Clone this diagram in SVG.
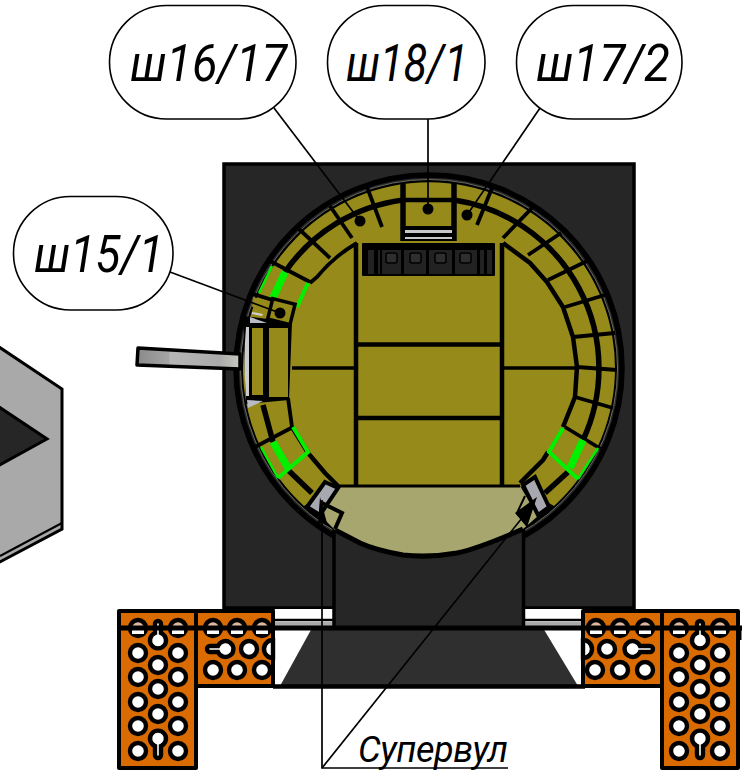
<svg xmlns="http://www.w3.org/2000/svg" width="748" height="772" viewBox="0 0 748 772">
<defs>
<linearGradient id="barrel" x1="0" x2="1" y1="0" y2="0"><stop offset="0" stop-color="#8a8a8a"/><stop offset="0.31" stop-color="#a4a4a4"/><stop offset="0.32" stop-color="#b6b6b6"/><stop offset="0.8" stop-color="#aaaaaa"/><stop offset="1" stop-color="#c8c8c0"/></linearGradient>
</defs>
<style>
.bub{fill:#fff;stroke:#000;stroke-width:1.6}
.lbl{font-family:"Roboto","Liberation Sans",sans-serif;font-style:italic;font-weight:400;font-size:52px;fill:#000}
.lead{fill:none;stroke:#000;stroke-width:1.7}
.plate{fill:#d96b00;stroke:#000;stroke-width:4;stroke-linejoin:round}
.h{fill:#fff;stroke:#000;stroke-width:4.4}
.t{fill:#dcb9a0;stroke:#000;stroke-width:4.4}
.y{fill:#958a1a}
.k{fill:none;stroke:#000;stroke-width:3.8}
.kk{fill:none;stroke:#000;stroke-width:5.5}
.g{fill:none;stroke:#00f000;stroke-width:4}
.s{fill:#a8a8b0;stroke:#000;stroke-width:4}
.dark{fill:#262626}
.dot{fill:#000}
</style>

<g id="hex-block">
<polygon points="-4,345 62,389 62,529 -4,564" fill="#a9a9a9" stroke="#000" stroke-width="3"/>
<line x1="0" y1="556" x2="62" y2="523" stroke="#000" stroke-width="2"/>
<polygon points="-4,405 47,439 -4,467" fill="#262626" stroke="#000" stroke-width="3"/>
</g>

<g id="housing">
<rect x="224" y="164" width="410" height="444" class="dark" stroke="#000" stroke-width="3.5"/>
<rect x="275" y="609" width="58" height="18" fill="#fff"/>
<rect x="525" y="609" width="58" height="18" fill="#fff"/>
<rect x="275" y="622" width="58" height="4" fill="#aaa"/>
<rect x="525" y="622" width="58" height="4" fill="#aaa"/>
<line x1="275" y1="620" x2="333" y2="620" stroke="#000" stroke-width="2.5"/>
<line x1="525" y1="620" x2="583" y2="620" stroke="#000" stroke-width="2.5"/>
<polygon points="312,628 543,628 578,686 280,686" fill="#2f2f2f"/>
<line x1="273" y1="686.500" x2="585" y2="686.500" stroke="#000" stroke-width="4.500"/>
<circle cx="429" cy="368" r="193" class="dark" stroke="#000" stroke-width="5.500"/>
<circle cx="429" cy="368" r="188.500" fill="#000" stroke="#6a6a62" stroke-width="1"/>
<rect x="335" y="528" width="188" height="98" class="dark"/>
<line x1="334" y1="529" x2="334" y2="628" stroke="#000" stroke-width="3.500"/>
<line x1="523.500" y1="529" x2="523.500" y2="628" stroke="#000" stroke-width="3.500"/>
</g>

<g id="barrel-part">
<polygon points="138,348 240,354 240,369 137,365" fill="url(#barrel)" stroke="#000" stroke-width="3.500" stroke-linejoin="round"/>
</g>

<g id="drum">
<path d="M304,506 A186,186 0 1 1 554,506 L520,486 L338,486 Z" class="y"/>
<polygon points="243,316 292,322 289,400 246,404" fill="#000"/>
<path d="M246,327 Q243,360 246,396 L249,396 L249,327 Z" fill="#c8ccd0"/>
<polygon points="250,317 267,323 250,323" fill="#b8bcc4"/>
<polygon points="252,312 263,314 262,316 252,314" fill="#d0d0d0"/>
<polygon points="247,400 263,401 248,408" fill="#b8bcc4"/>
<path d="M338,486 H520 L538,516 L523,529 Q480,548 457,553 Q429,558 403,555 Q375,550 360,543 L335,530 L320,515 Z" fill="#a6a66e"/>
<path d="M335,530 L360,543 Q375,550 403,555 Q429,558 457,553 Q480,548 523,529" fill="none" stroke="#000" stroke-width="5"/>
<path d="M338,486 H520" fill="none" stroke="#000" stroke-width="3"/>
<path class="k" d="M310,283 L317,277 A145,145 0 0 1 357,243"/>
<path class="k" d="M288,398 L292,427"/>
<path class="k" style="stroke-width:4.500" d="M292,427 L308,453 L325,473 L338,486"/>
<path class="k" style="stroke-width:4.500" d="M503,243 L530,263 L547,282 L563,307 L573,337 L577,367 L575,397 L563,427"/>
<path class="k" style="stroke-width:4.500" d="M548,452 L543,460 L520,483"/>
<path class="kk" d="M403,200 A170,170 0 0 0 285,272"/>
<path class="kk" d="M454,200 A170,170 0 0 1 583,440"/>
<path class="kk" d="M568,472 L545,493"/>
<path class="kk" d="M288,470 L312,493"/>
<path class="kk" d="M263,405 L273,442"/>
<g class="k">
<path d="M367,187 L382,227"/><path d="M330,206 L352,238"/><path d="M299,229 L330,258"/><path d="M270,261 L310,282"/><path d="M253,294 L295,307"/>
<path d="M492,188 L477,225"/><path d="M532,208 L503,238"/><path d="M561,233 L528,255"/><path d="M587,261 L548,280"/><path d="M605,295 L565,307"/><path d="M615,333 L573,337"/><path d="M617,370 L577,367"/><path d="M613,408 L575,397"/><path d="M601,449 L565,427"/>
<path d="M255,447 L293,427"/>
</g>
<path class="g" d="M308,283 L297,307"/>
<path class="g" style="stroke-width:2.500" d="M272,266 L259,293"/>
<path class="g" style="stroke-width:7.500" d="M285,272 L273,298"/>
<path class="g" d="M293,427 L308,452 L278,478"/>
<path class="g" style="stroke-width:2.500" d="M261,447 L278,478"/>
<path class="g" style="stroke-width:7.500" d="M273,442 L288,468"/>
<path class="g" d="M563,428 L549,452 L578,479"/>
<path class="g" style="stroke-width:2.500" d="M598,448 L578,479"/>
<path class="g" style="stroke-width:7.500" d="M583,440 L570,468"/>
<rect x="270" y="301" width="23" height="21" class="y" stroke="#000" stroke-width="3.500" transform="rotate(14 281 311)"/>
<rect x="252" y="328" width="11" height="67" class="y"/>
<rect x="269" y="328" width="19" height="69" class="y"/>
<polygon points="253,297 268,301 266,310 252,307" class="y"/>
<polygon points="325,482 338,488 320,515 307,507" class="s"/>
<polygon points="523,485 535,477 549,507 538,515" class="s"/>
<polyline points="322,503 342,513 335,529" fill="none" stroke="#000" stroke-width="4"/>
<polyline points="525,496 517,513 528,527" fill="none" stroke="#000" stroke-width="2"/>
</g>

<g id="center-cells">
<g fill="none" stroke="#000" stroke-width="4.500">
<line x1="356" y1="243" x2="356" y2="486"/>
<line x1="502" y1="243" x2="502" y2="486"/>
<line x1="356" y1="344.500" x2="502" y2="344.500"/>
<line x1="356" y1="418" x2="502" y2="418"/>
</g>
<line x1="292" y1="368" x2="356" y2="368" stroke="#000" stroke-width="3.500"/>
<line x1="502" y1="368" x2="577" y2="368" stroke="#000" stroke-width="3.500"/>
<line x1="403" y1="183" x2="403" y2="241" stroke="#000" stroke-width="5.500"/>
<line x1="454" y1="183" x2="454" y2="241" stroke="#000" stroke-width="5.500"/>
<line x1="405" y1="200" x2="452" y2="200" stroke="#000" stroke-width="4.500"/>
<rect x="405" y="226" width="47" height="15" fill="#000"/>
<rect x="405" y="230" width="47" height="3" fill="#c8c8c8"/>
<rect x="405" y="237" width="47" height="2" fill="#c8c8c8"/>
</g>

<g id="device">
<rect x="362" y="243" width="133" height="33" fill="#000" rx="1"/>
<rect x="368" y="250" width="124" height="24" fill="#222"/>
<g fill="#000">
<rect x="374" y="250" width="4" height="24"/><rect x="380" y="250" width="2" height="24"/>
<rect x="401" y="250" width="3" height="24"/><rect x="426" y="250" width="3" height="24"/>
<rect x="452" y="250" width="3" height="24"/><rect x="477" y="250" width="3" height="24"/><rect x="484" y="250" width="3" height="24"/>
</g>
<g fill="#2e2e2e" stroke="#000" stroke-width="1.500">
<rect x="386" y="253" width="11" height="10" rx="2"/><rect x="410" y="253" width="11" height="10" rx="2"/><rect x="435" y="253" width="11" height="10" rx="2"/><rect x="460" y="253" width="11" height="10" rx="2"/>
</g>
</g>

<g id="plates">
<rect x="119" y="611" width="77" height="157" class="plate"/>
<rect x="196" y="611" width="77" height="75" class="plate"/>
<rect x="583" y="611" width="79" height="75" class="plate"/>
<rect x="662" y="611" width="76" height="157" class="plate"/>
<g class="t">
<circle cx="138" cy="628" r="8"/><circle cx="178" cy="628" r="8"/><circle cx="213" cy="628" r="8"/><circle cx="237" cy="628" r="8"/><circle cx="262" cy="628" r="8"/>
<circle cx="596" cy="628" r="8"/><circle cx="620" cy="628" r="8"/><circle cx="645" cy="628" r="8"/><circle cx="679" cy="628" r="8"/><circle cx="720" cy="628" r="8"/>
</g>
<g fill="#fff">
<rect x="132" y="629" width="12" height="5"/><rect x="172" y="629" width="12" height="5"/><rect x="207" y="629" width="12" height="5"/><rect x="231" y="629" width="12" height="5"/><rect x="256" y="629" width="12" height="5"/>
<rect x="590" y="629" width="12" height="5"/><rect x="614" y="629" width="12" height="5"/><rect x="639" y="629" width="12" height="5"/><rect x="673" y="629" width="12" height="5"/><rect x="714" y="629" width="12" height="5"/>
</g>
<g class="h">
<circle cx="138" cy="653" r="8"/><circle cx="138" cy="677" r="8"/><circle cx="138" cy="702" r="8"/><circle cx="138" cy="726" r="8"/><circle cx="138" cy="751" r="8"/>
<circle cx="178" cy="653" r="8"/><circle cx="178" cy="677" r="8"/><circle cx="178" cy="702" r="8"/><circle cx="178" cy="726" r="8"/><circle cx="178" cy="751" r="8"/>
<circle cx="158" cy="665" r="8"/><circle cx="158" cy="689" r="8"/><circle cx="158" cy="714" r="8"/>
<path d="M155,633 A8,8 0 1 0 161,633 L161,624 A3,3 0 0 0 155,624 Z"/>
<path d="M161,746 A8,8 0 1 0 155,746 L155,755 A3,3 0 0 0 161,755 Z"/>
<path d="M218,652 A8,8 0 1 0 218,646 L210,646 A3,3 0 0 0 210,652 Z"/>
<circle cx="249" cy="649" r="8"/>
<circle cx="213" cy="670" r="8"/><circle cx="237" cy="670" r="8"/><circle cx="262" cy="670" r="8"/>
<path d="M273,640 A9,9 0 0 0 273,658 Z"/>
<circle cx="679" cy="653" r="8"/><circle cx="679" cy="677" r="8"/><circle cx="679" cy="702" r="8"/><circle cx="679" cy="726" r="8"/><circle cx="679" cy="751" r="8"/>
<circle cx="720" cy="653" r="8"/><circle cx="720" cy="677" r="8"/><circle cx="720" cy="702" r="8"/><circle cx="720" cy="726" r="8"/><circle cx="720" cy="751" r="8"/>
<circle cx="700" cy="665" r="8"/><circle cx="700" cy="689" r="8"/><circle cx="700" cy="714" r="8"/>
<path d="M697,633 A8,8 0 1 0 703,633 L703,624 A3,3 0 0 0 697,624 Z"/>
<path d="M703,746 A8,8 0 1 0 697,746 L697,755 A3,3 0 0 0 703,755 Z"/>
<path d="M640,646 A8,8 0 1 0 640,652 L650,652 A3,3 0 0 0 650,646 Z"/>
<circle cx="607" cy="649" r="8"/>
<circle cx="595" cy="670" r="8"/><circle cx="620" cy="670" r="8"/><circle cx="645" cy="670" r="8"/>
<path d="M583,640 A9,9 0 0 1 583,658 Z"/>
</g>
<line x1="118" y1="628" x2="742" y2="628" stroke="#000" stroke-width="5"/>
<line x1="740" y1="626" x2="740" y2="640" stroke="#000" stroke-width="3"/>
</g>

<g id="connectors">
<line class="lead" x1="274" y1="108" x2="360" y2="221"/>
<line class="lead" x1="428" y1="118" x2="428" y2="209"/>
<line class="lead" x1="540" y1="108" x2="467" y2="215"/>
<line class="lead" x1="170" y1="272" x2="280" y2="313"/>
<polyline class="lead" points="322,500 322,768 508,768"/>
<line class="lead" x1="322" y1="768" x2="522" y2="518"/>
<circle class="dot" cx="360" cy="221" r="5.500"/>
<circle class="dot" cx="428" cy="209" r="5.500"/>
<circle class="dot" cx="467" cy="215" r="5.500"/>
<circle class="dot" cx="280" cy="313" r="5.500"/>
<polygon class="dot" points="320,497 318,523 327,523"/>
<polygon class="dot" points="537,497 515,513 527,527"/>
</g>

<g id="n-sh1617"><rect class="bub" x="109.500" y="5.500" width="186.500" height="113.500" rx="57" ry="57"/><text class="lbl" x="130" y="81" textLength="157" lengthAdjust="spacingAndGlyphs">ш16/17</text></g>
<g id="n-sh181"><rect class="bub" x="327.500" y="5.500" width="157.500" height="113.500" rx="57" ry="57"/><text class="lbl" x="346" y="81" textLength="122" lengthAdjust="spacingAndGlyphs">ш18/1</text></g>
<g id="n-sh172"><rect class="bub" x="516.500" y="5.500" width="165.500" height="113.500" rx="57" ry="57"/><text class="lbl" x="536" y="81" textLength="134" lengthAdjust="spacingAndGlyphs">ш17/2</text></g>
<g id="n-sh151"><rect class="bub" x="13.500" y="196.500" width="159.500" height="113.500" rx="57" ry="57"/><text class="lbl" x="34" y="272" textLength="130" lengthAdjust="spacingAndGlyphs">ш15/1</text></g>
<g id="n-supervul"><text class="lbl" x="358" y="762" textLength="150" style="font-size:36px;font-weight:400">Супервул</text></g>
</svg>
